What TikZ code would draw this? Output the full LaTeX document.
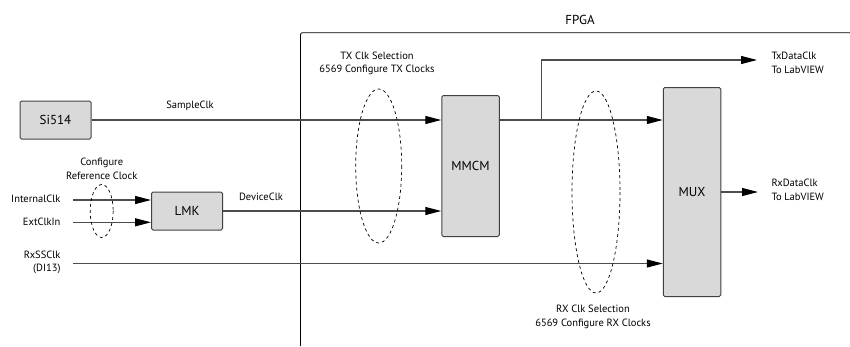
\documentclass[tikz,border=0pt]{standalone}
\usepackage{fontspec}
\setmainfont{PT Sans}
\usepackage{tikz}
\usetikzlibrary{arrows.meta, positioning, calc}

\begin{document}
\begin{tikzpicture}[
    x=1pt, y=-1pt,
    block/.style={draw=black!75, fill=black!15, line width=1pt, rounded corners=1.5pt,
        font=\fontsize{13}{15}\selectfont, inner sep=0pt},
    sig/.style={-{Triangle[length=16pt, width=8pt, color=black]}, draw=black!70, line width=1.1pt},
    sel/.style={draw=black, dashed, line width=0.7pt},
    lbl/.style={font=\fontsize{10.5}{13.5}\selectfont, align=center}
]
    \useasboundingbox (0,0) rectangle (850,346);

    % FPGA-Rahmen
    \draw[line width=0.8pt, rounded corners=2pt] (850,32.7) -- (300.5,32.7) -- (300.5,346);
    \node[font=\fontsize{13}{15}\selectfont] (fpga) at (580,20) {FPGA};

    % Bausteine
    \node[block, minimum width=71pt, minimum height=38pt] (si) at (55.5,120) {Si514};
    \node[block, minimum width=71pt, minimum height=38pt] (lmk) at (187,211) {LMK};
    \node[block, minimum width=57.5pt, minimum height=141pt] (mmcm) at (470.5,166) {MMCM};
    \node[block, minimum width=57.5pt, minimum height=209pt] (mux) at (692,192) {MUX};

    % Eingaenge links
    \node[lbl, anchor=east] (intclk) at (64,199) {InternalClk};
    \node[lbl, anchor=east] (extclk) at (64,222) {ExtClkIn};
    \node[lbl, align=right, anchor=east] (rxss) at (64,262.5) {RxSSClk\\(DI13)};

    \coordinate (intin) at (73,200);
    \coordinate (extin) at (73,222.3);
    \coordinate (rxin) at (73,263.5);
    \draw[sig] (intin) -- (intin -| lmk.west);
    \draw[sig] (extin) -- (extin -| lmk.west);

    % Takte zum MMCM
    \draw[sig] (si.east) -- (si.east -| mmcm.west);
    \draw[sig] (lmk.east) -- (lmk.east -| mmcm.west);
    \draw[sig] (rxin) -- (rxin -| mux.west);
    \node[lbl] (sclk) at (190,106) {SampleClk};
    \node[lbl] (dclk) at (261,197) {DeviceClk};

    % MMCM zum MUX und Abzweig TxDataClk
    \coordinate (mmout) at (mmcm.east |- si.east);
    \coordinate (split) at (541.7,119.5);
    \coordinate (txout) at (757,60);
    \draw[sig] (mmout) -- (mmout -| mux.west);
    \draw[sig] (split) |- (txout);
    \draw[sig] (mux.east) -- (758,192);
    \node[lbl, align=left, anchor=west] (txdc) at (768,63) {TxDataClk\\To LabVIEW};
    \node[lbl, align=left, anchor=west] (rxdc) at (768,190) {RxDataClk\\To LabVIEW};

    % Auswahl-Ellipsen
    \draw[sel] (101.7,211) ellipse [x radius=11.5, y radius=26.5];
    \draw[sel] (378.7,166) ellipse [x radius=23, y radius=77];
    \draw[sel] (596,192) ellipse [x radius=24, y radius=101];
    \node[lbl] (refsel) at (101.7,169) {Configure\\Reference Clock};
    \node[lbl] (txsel) at (377,63.5) {TX Clk Selection\\6569 Configure TX Clocks};
    \node[lbl] (rxsel) at (593,317) {RX Clk Selection\\6569 Configure RX Clocks};
\end{tikzpicture}
\end{document}
